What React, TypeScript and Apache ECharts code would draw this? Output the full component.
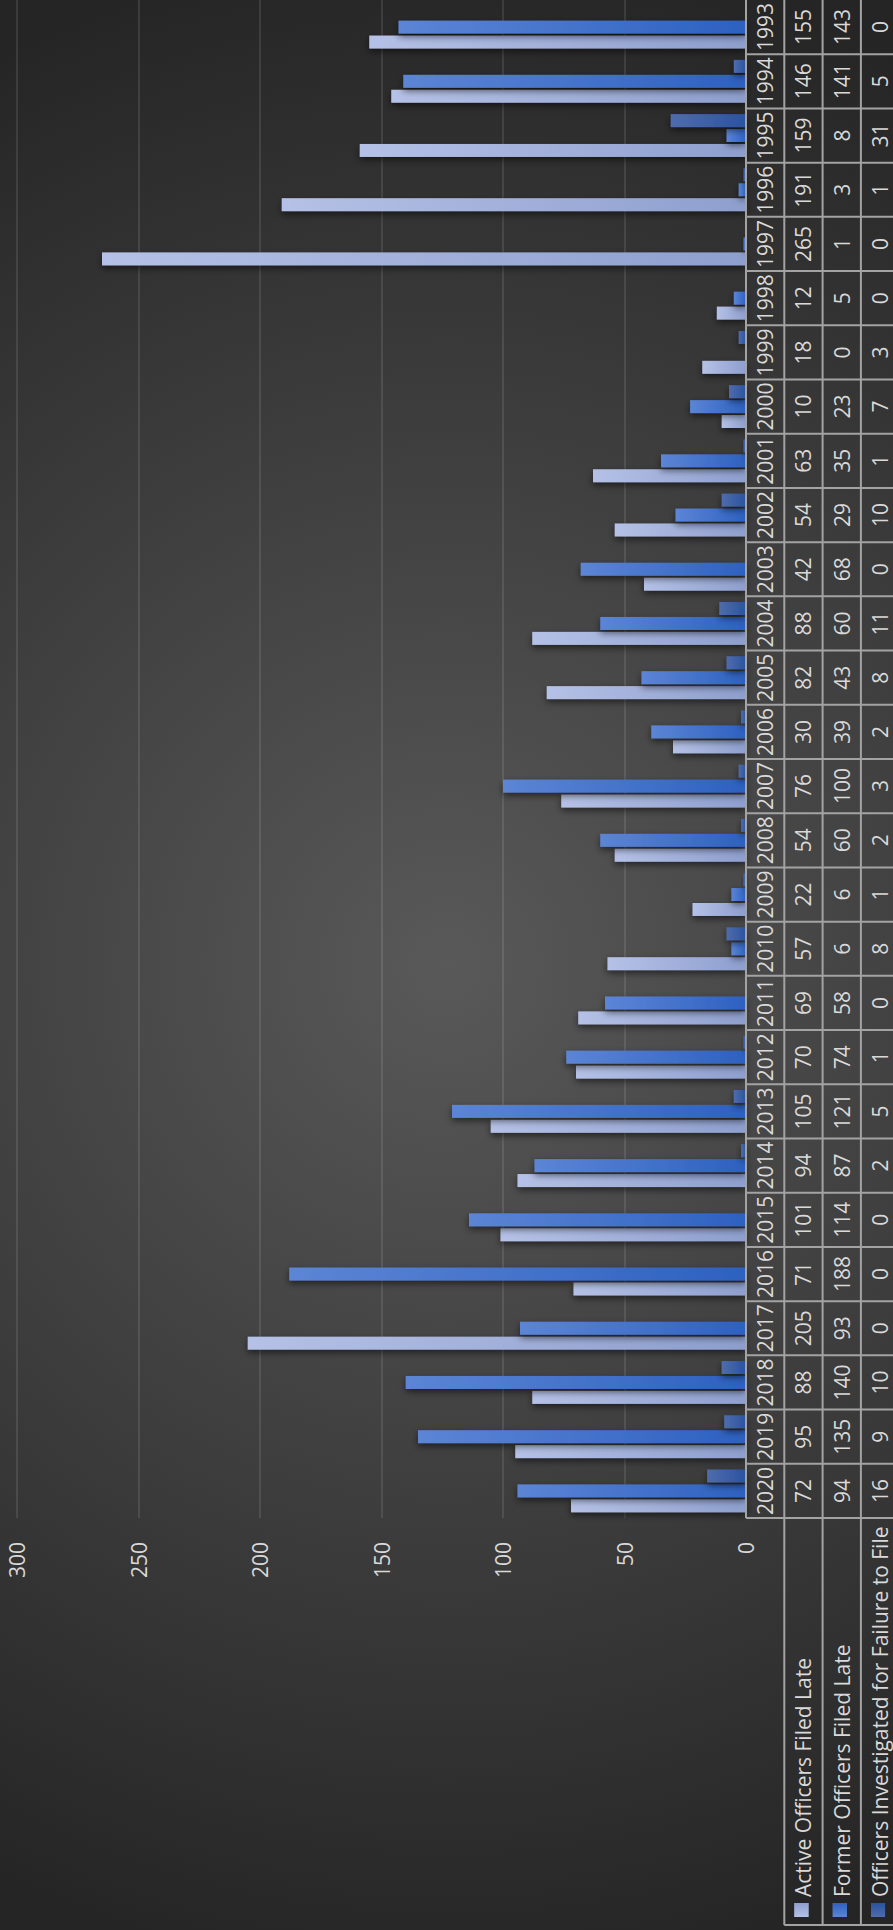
import React, { useEffect, useRef } from "react";
import * as echarts from "echarts";

// Categories (left-to-right in the unrotated chart)
const years = [
  "2020", "2019", "2018", "2017", "2016", "2015", "2014", "2013", "2012", "2011",
  "2010", "2009", "2008", "2007", "2006", "2005", "2004", "2003", "2002", "2001",
  "2000", "1999", "1998", "1997", "1996", "1995", "1994", "1993",
];
const activeLate = [72, 95, 88, 205, 71, 101, 94, 105, 70, 69, 57, 22, 54, 76, 30, 82, 88, 42, 54, 63, 10, 18, 12, 265, 191, 159, 146, 155];
const formerLate = [94, 135, 140, 93, 188, 114, 87, 121, 74, 58, 6, 6, 60, 100, 39, 43, 60, 68, 29, 35, 23, 0, 5, 1, 3, 8, 141, 143];
const investigated = [16, 9, 10, 0, 0, 0, 2, 5, 1, 0, 8, 1, 2, 3, 2, 8, 11, 0, 10, 1, 7, 3, 0, 0, 1, 31, 5, 0];
const seriesNames = [
  "Active Officers Filed Late",
  "Former Officers Filed Late",
  "Officers Investigated for Failure to File",
];
const valueMin = 0;
const valueMax = 300;
const valueInterval = 50;

// Styling / layout (unrotated landscape canvas)
const W = 1930;
const H = 893;
const GRID_LEFT = 412;
const GRID_WIDTH = 1520;
const GRID_TOP = 17;
const GRID_HEIGHT = 729;
const ROW_H = 38.3;
const TABLE_LEFT = 5;
const FONT = "'Open Sans', 'Noto Sans', sans-serif";
const TEXT_COLOR = "#d9d9d9";
const BORDER = "#a3a3a3";

const gradients = [
  ["#b5c1e6", "#8e9fce"],
  ["#5c85d5", "#2d61c0"],
  ["#4f6cad", "#2a53a0"],
];

function grad(i: number) {
  return new echarts.graphic.LinearGradient(0, 0, 0, 1, [
    { offset: 0, color: gradients[i][0] },
    { offset: 1, color: gradients[i][1] },
  ]);
}

export default function App() {
  const ref = useRef<HTMLDivElement>(null);

  useEffect(() => {
    if (!ref.current) return;
    const chart = echarts.init(ref.current, undefined, { renderer: "svg" });
    const values = [activeLate, formerLate, investigated];
    const tableBottom = GRID_TOP + GRID_HEIGHT + ROW_H * 4;
    const plotBottom = GRID_TOP + GRID_HEIGHT;

    const graphics: any[] = [
      {
        type: "rect",
        silent: true,
        z: -100,
        shape: { x: 0, y: 0, width: W, height: H },
        style: {
          fill: {
            type: "radial",
            x: 965,
            y: 446,
            r: 1020,
            global: true,
            colorStops: [
              { offset: 0, color: "#595959" },
              { offset: 1, color: "#252525" },
            ],
          },
        },
      },
      {
        type: "line",
        silent: true,
        z: 50,
        shape: { x1: GRID_LEFT, y1: plotBottom, x2: W, y2: plotBottom },
        style: { stroke: BORDER, lineWidth: 2 },
      },
      {
        type: "line",
        silent: true,
        z: 50,
        shape: { x1: TABLE_LEFT, y1: plotBottom + ROW_H, x2: TABLE_LEFT, y2: tableBottom },
        style: { stroke: BORDER, lineWidth: 2 },
      },
    ];
    for (let k = 1; k <= 4; k++) {
      graphics.push({
        type: "line",
        silent: true,
        z: 50,
        shape: { x1: TABLE_LEFT, y1: plotBottom + ROW_H * k, x2: W, y2: plotBottom + ROW_H * k },
        style: { stroke: BORDER, lineWidth: 2 },
      });
    }
    seriesNames.forEach((name, i) => {
      const cy = plotBottom + ROW_H * (i + 1.5);
      graphics.push({
        type: "rect",
        silent: true,
        z: 50,
        shape: { x: 13, y: cy - 9, width: 14, height: 14 },
        style: { fill: gradients[i][0] },
      });
      graphics.push({
        type: "rect",
        silent: true,
        z: 50,
        shape: { x: 13, y: cy - 9, width: 14, height: 14 },
        style: {
          fill: new echarts.graphic.LinearGradient(0, 0, 1, 0, [
            { offset: 0, color: gradients[i][0] },
            { offset: 1, color: gradients[i][1] },
          ]),
        },
      });
      graphics.push({
        type: "text",
        silent: true,
        z: 50,
        x: 33,
        y: cy,
        style: {
          text: name,
          fill: TEXT_COLOR,
          fontSize: 21,
          fontFamily: FONT,
          align: "left",
          verticalAlign: "middle",
        },
      });
    });

    const barSeries = seriesNames.map((name, i) => ({
      type: "bar",
      name,
      data: values[i],
      barGap: "15%",
      barCategoryGap: "21%",
      itemStyle: {
        color: grad(i),
        shadowBlur: 7,
        shadowColor: "rgba(0,0,0,0.55)",
        shadowOffsetX: -3,
        shadowOffsetY: 0,
      },
      z: 3,
    }));

    const tableSeries = {
      type: "custom",
      name: "table",
      silent: true,
      clip: false,
      z: 20,
      data: years.map((_, i) => [i, 0]),
      encode: { x: 0, y: 1 },
      renderItem: (params: any, api: any) => {
        const i = api.value(0);
        const p = api.coord([i, 0]);
        const bw = api.size([1, 0])[0];
        const left = p[0] - bw / 2;
        const y0 = p[1];
        const cells = [years[i], activeLate[i], formerLate[i], investigated[i]];
        const children: any[] = [
          {
            type: "line",
            shape: { x1: left, y1: y0, x2: left, y2: y0 + ROW_H * 4 },
            style: { stroke: BORDER, lineWidth: 2 },
          },
        ];
        cells.forEach((c, k) => {
          children.push({
            type: "text",
            x: p[0],
            y: y0 + ROW_H * (k + 0.5),
            style: {
              text: String(c),
              fill: TEXT_COLOR,
              fontSize: 21,
              fontFamily: FONT,
              align: "center",
              verticalAlign: "middle",
            },
          });
        });
        return { type: "group", children };
      },
    };

    chart.setOption({
      animation: false,
      textStyle: { fontFamily: FONT },
      grid: { left: GRID_LEFT, top: GRID_TOP, width: GRID_WIDTH, height: GRID_HEIGHT },
      xAxis: {
        type: "category",
        data: years,
        axisLine: { show: false },
        axisTick: { show: false },
        axisLabel: { show: false },
      },
      yAxis: {
        type: "value",
        min: valueMin,
        max: valueMax,
        interval: valueInterval,
        axisLine: { show: false },
        axisTick: { show: false },
        axisLabel: { color: TEXT_COLOR, fontSize: 21, fontFamily: FONT, margin: 24 },
        splitLine: { lineStyle: { color: "rgba(255,255,255,0.1)", width: 2 } },
      },
      graphic: graphics,
      series: [...barSeries, tableSeries],
    });

    return () => chart.dispose();
  }, []);

  return (
    <div
      style={{
        position: "absolute",
        left: 0,
        top: 0,
        width: 893,
        height: 1930,
        overflow: "hidden",
        background: "#2a2a2a",
      }}
    >
      <div
        ref={ref}
        style={{
          position: "absolute",
          left: 0,
          top: 0,
          width: W,
          height: H,
          transformOrigin: "0 0",
          transform: "translate(0px, 1930px) rotate(-90deg)",
        }}
      />
    </div>
  );
}
